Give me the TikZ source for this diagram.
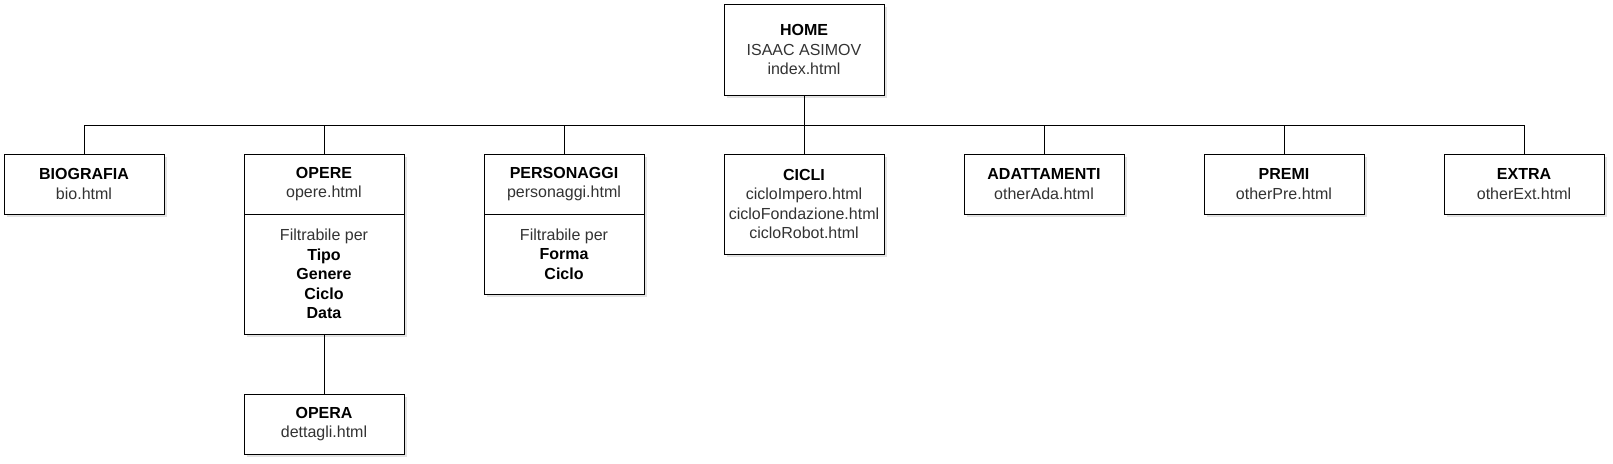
\documentclass[tikz,border=0pt]{standalone}
\usepackage{fontspec}
\setmainfont{Liberation Sans}
\usetikzlibrary{positioning, shadows}
\definecolor{inkgray}{HTML}{333333}
\newcommand{\pagetitle}[1]{\textcolor{black}{\textbf{#1}}}

\begin{document}
\begin{tikzpicture}[x=1pt, y=-1pt, line width=1pt,
    font=\fontsize{16}{19.5}\selectfont,
    page/.style={draw, fill=white, text=inkgray, align=center,
                 minimum width=160pt, minimum height=60pt,
                 inner sep=0pt, outer sep=0pt,
                 drop shadow={shadow xshift=2.5pt, shadow yshift=-2.5pt,
                              opacity=0.22}}]
  \useasboundingbox (0,0) rectangle (1613,463);
  \node[page, minimum height=91pt] (home) at (804,49.5)
    {\pagetitle{HOME}\\ISAAC ASIMOV\\index.html};
  \coordinate (bus) at (804,125);
  \foreach \nm/\ttl/\url/\hgt [count=\i from 0] in {
      bio/BIOGRAFIA/bio.html/60, opere/OPERE/opere.html/60,
      pers/PERSONAGGI/personaggi.html/60,
      cicli/CICLI/{cicloImpero.html\\cicloFondazione.html\\cicloRobot.html}/100,
      adat/ADATTAMENTI/otherAda.html/60, premi/PREMI/otherPre.html/60,
      extra/EXTRA/otherExt.html/60}{%
    \node[page, anchor=north, minimum height=\hgt pt] (\nm) at (84+\i*240,154)
      {\pagetitle{\ttl}\\\url};}
  % filter compartments
  \node[page, minimum height=120pt, below=0pt of opere] (opereF)
    {Filtrabile per\\\pagetitle{Tipo}\\\pagetitle{Genere}\\\pagetitle{Ciclo}\\\pagetitle{Data}};
  \node[page, minimum height=80pt, below=0pt of pers] (persF)
    {Filtrabile per\\\pagetitle{Forma}\\\pagetitle{Ciclo}};
  \node[page, below=60pt of opereF] (opera) {\pagetitle{OPERA}\\dettagli.html};
  % tree lines
  \draw (home.south) -- (home.south |- bus);
  \draw (bio.north) |- (extra.north |- bus) -- (extra.north);
  \foreach \nm in {opere, pers, cicli, adat, premi}
    \draw (\nm.north) -- (\nm.north |- bus);
  \draw (opereF) -- (opera);
\end{tikzpicture}
\end{document}
